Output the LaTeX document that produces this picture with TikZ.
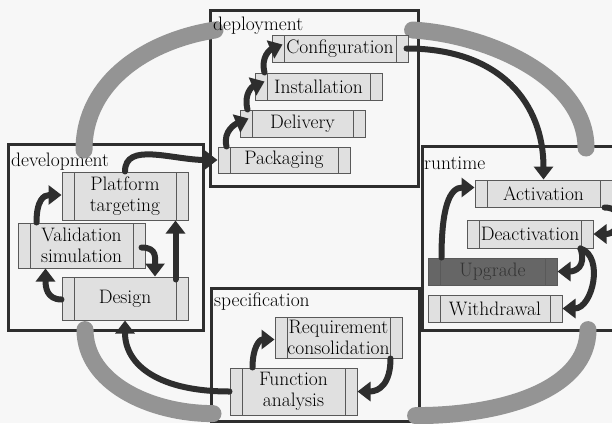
\documentclass[tikz,border=0pt]{standalone}
\usepackage{fontspec}
\usetikzlibrary{arrows.meta,calc}
\newcommand{\lblfont}{\fontsize{19.5}{21}\selectfont}
\tikzset{
  container/.style={draw=black!82, line width=2.6pt, inner sep=0pt, anchor=north west},
  grouplabel/.style={font=\lblfont, anchor=base west, inner sep=0pt},
  stage/.style={draw=black!65, line width=1pt, fill=black!12, inner sep=0pt, align=center,
    font=\lblfont,
    path picture={\draw[black!65, line width=0.9pt]
      ([xshift=12pt]path picture bounding box.north west) -- ([xshift=12pt]path picture bounding box.south west)
      ([xshift=-12pt]path picture bounding box.north east) -- ([xshift=-12pt]path picture bounding box.south east);}},
  darkstage/.style={stage, fill=black!60, text=black!80},
  flow/.style={draw=black!82, line width=6pt, line cap=round, -{Triangle[length=13pt,width=19pt]}},
  ring/.style={draw=black!42, line width=17pt, line cap=round}
}
\begin{document}
\begin{tikzpicture}[x=1pt,y=-1pt]
\useasboundingbox (0,0) rectangle (612,423);
\clip (0,0) rectangle (612,423);
\fill[black!3] (0,0) rectangle (612,423);

% containers
\node[container, minimum width=195pt, minimum height=186pt] (dev) at (7,143) {};
\node[container, minimum width=208pt, minimum height=176pt] (dep) at (209,9) {};
\node[container, minimum width=208pt, minimum height=133pt] (spec) at (210,287) {};
\node[container, minimum width=220pt, minimum height=184pt] (run) at (421,145) {};

% gray cycle arcs
\draw[ring] ([shift={(77,7)}]dev.north west) .. controls +(0,-70) and +(-65,10) .. ([shift={(6,21)}]dep.north west);
\draw[ring] ([shift={(-7,21)}]dep.north east) .. controls +(80,5) and +(0,-68) .. ([shift={(165,3)}]run.north west);
\draw[ring] ([shift={(167,-2)}]run.south west) .. controls +(0,60) and +(87,0) .. ([shift={(-5,-7)}]spec.south east);
\draw[ring] ([shift={(78,-2)}]dev.south west) .. controls +(0,53) and +(-63,0) .. ([shift={(3,-9)}]spec.south west);

% group labels
\node[grouplabel] (devlbl) at (11,166) {development};
\node[grouplabel] (deplbl) at (213,30) {deployment};
\node[grouplabel] (speclbl) at (214,306) {specification};
\node[grouplabel] (runlbl) at (424,169) {runtime};

% deployment stages
\node[stage, minimum width=136pt, minimum height=27pt] (conf) at (340,48.5) {Configuration};
\node[stage, minimum width=127pt, minimum height=27pt] (inst) at (318.5,86.5) {Installation};
\node[stage, minimum width=125pt, minimum height=27pt] (deliv) at (302.5,123.5) {Delivery};
\node[stage, minimum width=132pt, minimum height=26pt] (pack) at (284,160) {Packaging};

% development stages
\node[stage, minimum width=126pt, minimum height=48pt] (plat) at (125,196) {Platform\\targeting};
\node[stage, minimum width=127pt, minimum height=45pt] (valid) at (81.5,245.5) {Validation\\simulation};
\node[stage, minimum width=126pt, minimum height=43pt] (design) at (125,298.5) {Design};

% specification stages
\node[stage, minimum width=127pt, minimum height=41pt] (req) at (338.5,337.5) {Requirement\\consolidation};
\node[stage, minimum width=127pt, minimum height=47pt] (func) at (293.5,391.5) {Function\\analysis};

% runtime stages
\node[stage, minimum width=137pt, minimum height=27pt] (activ) at (543.5,193.5) {Activation};
\node[stage, minimum width=126pt, minimum height=28pt] (deact) at (530,234) {Deactivation};
\node[darkstage, minimum width=129pt, minimum height=27pt] (upg) at (492.5,271.5) {Upgrade};
\node[stage, minimum width=134pt, minimum height=27pt] (withd) at (495,308.5) {Withdrawal};

% deployment flow
\draw[flow] (plat.north) .. controls +(0,-30) and +(-45,0) .. (pack.west);
\draw[flow] ([shift={(9,0)}]pack.north west) .. controls +(-4,-16) and +(-12,5) .. ([shift={(9,-5)}]deliv.west);
\draw[flow] ([shift={(8,0)}]deliv.north west) .. controls +(-4,-16) and +(-12,5) .. ([shift={(10,-5)}]inst.west);
\draw[flow] ([shift={(10,0)}]inst.north west) .. controls +(-4,-16) and +(-12,5) .. ([shift={(11,-4)}]conf.west);
\draw[flow] ([shift={(-2,0)}]conf.east) .. controls +(95,0) and +(0,-75) .. (activ.north);

% runtime flow
\draw[flow] ([shift={(-8,0)}]activ.south east) .. controls +(22,0) and +(28,0) .. (deact.east);
\draw[flow] ([shift={(-13,0)}]deact.south east) .. controls +(6,18) and +(18,0) .. (upg.east);
\draw[flow] ([shift={(-13,0)}]deact.south east) .. controls +(24,8) and +(30,0) .. (withd.east);
\draw[flow] ([shift={(14,0)}]upg.north west) .. controls +(0,-50) and +(-25,0) .. ([shift={(0,-6)}]activ.west);

% development flow
\draw[flow] ([shift={(19,0)}]valid.north west) .. controls +(0,-22) and +(-18,0) .. ([shift={(0,-1)}]plat.west);
\draw[flow] ([shift={(-4,2)}]valid.east) .. controls +(16,0) and +(0,-18) .. ([shift={(30,0)}]design.north);
\draw[flow] ([shift={(-13,3)}]design.north east) -- ([shift={(-13,0)}]plat.south east);
\draw[flow] ([shift={(0,1)}]design.west) .. controls +(-15,0) and +(0,18) .. ([shift={(-36,0)}]valid.south);

% specification flow
\draw[flow] ([shift={(23,0)}]func.north west) .. controls +(0,-20) and +(-15,0) .. ([shift={(0,2)}]req.west);
\draw[flow] ([shift={(-12,0)}]req.south east) .. controls +(0,25) and +(22,0) .. (func.east);
\draw[flow] (func.west) .. controls +(-70,0) and +(0,45) .. (design.south);
\end{tikzpicture}
\end{document}
